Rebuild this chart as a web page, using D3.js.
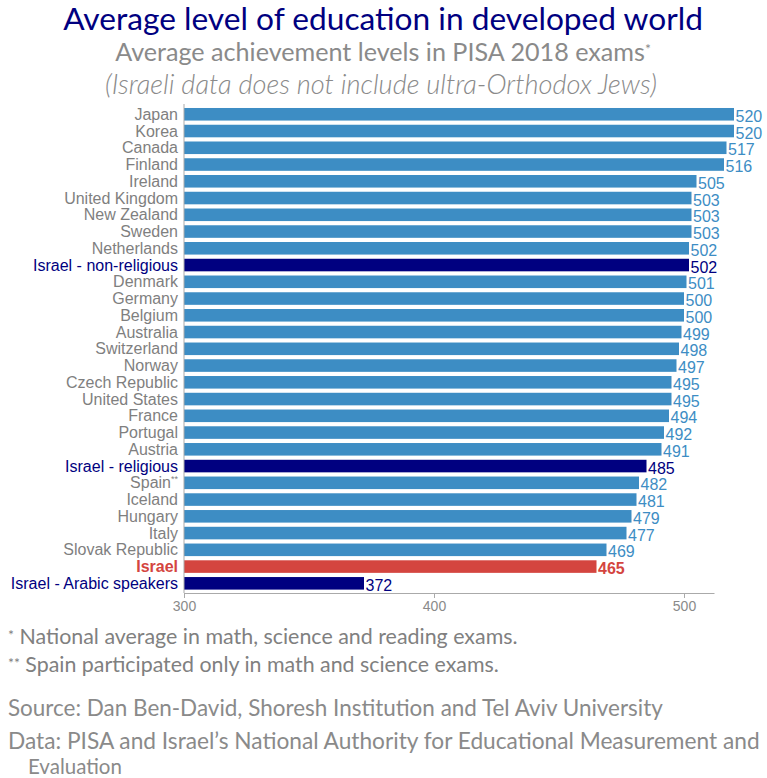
<!DOCTYPE html>
<html><head><meta charset="utf-8">
<script src="https://cdn.jsdelivr.net/npm/d3@7"></script>
<style>body{margin:0;background:#fff}svg{display:block}</style>
</head><body>
<script>
const categories = ["Japan","Korea","Canada","Finland","Ireland","United Kingdom","New Zealand","Sweden","Netherlands","Israel - non-religious","Denmark","Germany","Belgium","Australia","Switzerland","Norway","Czech Republic","United States","France","Portugal","Austria","Israel - religious","Spain","Iceland","Hungary","Italy","Slovak Republic","Israel","Israel - Arabic speakers"];
const values = [520,520,517,516,505,503,503,503,502,502,501,500,500,499,498,497,495,495,494,492,491,485,482,481,479,477,469,465,372];
const groups = ["c","c","c","c","c","c","c","c","c","s","c","c","c","c","c","c","c","c","c","c","c","s","c","c","c","c","c","i","s"];
const superscripts = {"Spain":"**"};
const tickValues = [300,400,500];

const W=767,H=778;
const svg=d3.select("body").append("svg").attr("width",W).attr("height",H);
const barColor={c:"#3d8dc4",s:"#000080",i:"#d4453f"};
const labelColor={c:"#7f7f7f",s:"#000080",i:"#d4453f"};
const valueColor={c:"#3d8dc4",s:"#000080",i:"#d4453f"};
const headFont="Lato, 'Open Sans', sans-serif";
const bodyFont="'Liberation Sans', Arial, sans-serif";

function fitText(sel,target){
  const w=sel.node().getComputedTextLength();
  const fs=parseFloat(sel.attr("font-size"));
  sel.attr("font-size",(fs*target/w).toFixed(2));
}

// titles
fitText(svg.append("text").attr("x",383).attr("y",30).attr("text-anchor","middle").attr("font-family",headFont)
  .attr("font-size",28).attr("fill","#000080").text("Average level of education in developed world"),640);
const st=svg.append("text").attr("x",383).attr("y",61).attr("text-anchor","middle").attr("font-family",headFont)
  .attr("font-size",21).attr("fill","#8a8a8a");
st.append("tspan").text("Average achievement levels in PISA 2018 exams");
st.append("tspan").attr("dy",-7).attr("font-size",14).text("*");
fitText(st,537);
fitText(svg.append("text").attr("x",381).attr("y",94).attr("text-anchor","middle").attr("font-family",headFont)
  .attr("font-size",21).attr("font-style","italic").attr("font-weight",300).attr("fill","#8a8a8a").text("(Israeli data does not include ultra-Orthodox Jews)"),552);

const x=d3.scaleLinear().domain([300,512]).range([184,714]);
const y=d3.scaleBand().domain(categories).range([105.9,591.7]).paddingInner(0.25).paddingOuter(0.125);
const data=categories.map((c,i)=>({c,v:values[i],g:groups[i]}));

svg.append("g").selectAll("rect").data(data).join("rect")
  .attr("x",x(300)).attr("y",d=>y(d.c)).attr("width",d=>x(d.v)-x(300)).attr("height",y.bandwidth())
  .attr("fill",d=>barColor[d.g]);

const lab=svg.append("g").selectAll("text").data(data).join("text")
  .attr("x",178).attr("y",d=>y(d.c)+y.bandwidth()/2+5.5).attr("text-anchor","end")
  .attr("font-family",bodyFont).attr("font-size",16)
  .attr("font-weight",d=>d.g==="i"?"bold":"normal").attr("fill",d=>labelColor[d.g]);
lab.append("tspan").text(d=>d.c);
lab.filter(d=>superscripts[d.c]).append("tspan").attr("font-size",9).attr("dy",-6).text(d=>superscripts[d.c]);

svg.append("g").selectAll("text").data(data).join("text")
  .attr("x",d=>x(d.v)+1.5).attr("y",d=>y(d.c)+y.bandwidth()/2+7.5)
  .attr("font-family",bodyFont).attr("font-size",16)
  .attr("font-weight",d=>d.g==="i"?"bold":"normal").attr("fill",d=>valueColor[d.g]).text(d=>d.v);

// axes
const ax=svg.append("g").attr("transform","translate(0,593)")
  .call(d3.axisBottom(x).tickValues(tickValues).tickSizeInner(5).tickSizeOuter(0).tickPadding(3));
ax.select(".domain").attr("stroke","#aaa");
ax.selectAll(".tick line").attr("stroke","#aaa");
ax.selectAll(".tick text").attr("fill","#8a8a8a").attr("font-family",bodyFont).attr("font-size",14);
svg.append("line").attr("x1",184).attr("x2",184).attr("y1",104).attr("y2",593).attr("stroke","#aaa");

// footnotes
const f1=svg.append("text").attr("x",8).attr("y",644).attr("font-family",headFont).attr("font-size",16).attr("fill","#808080");
f1.append("tspan").attr("font-size",14).attr("dy",-4).text("*");
f1.append("tspan").attr("dy",4).text(" National average in math, science and reading exams.");
fitText(f1,512);
const f2=svg.append("text").attr("x",8).attr("y",672).attr("font-family",headFont).attr("font-size",16).attr("fill","#808080");
f2.append("tspan").attr("font-size",14).attr("dy",-4).text("**");
f2.append("tspan").attr("dy",4).text(" Spain participated only in math and science exams.");
fitText(f2,495);
fitText(svg.append("text").attr("x",8).attr("y",716).attr("font-family",headFont).attr("font-size",20).attr("fill","#8a8a8a")
  .text("Source: Dan Ben-David, Shoresh Institution and Tel Aviv University"),655);
fitText(svg.append("text").attr("x",8).attr("y",749).attr("font-family",headFont).attr("font-size",20).attr("fill","#8a8a8a")
  .text("Data: PISA and Israel’s National Authority for Educational Measurement and"),752);
svg.append("text").attr("x",28).attr("y",774).attr("font-family",headFont).attr("font-size",20.5).attr("fill","#8a8a8a").text("Evaluation");
</script>
</body></html>
